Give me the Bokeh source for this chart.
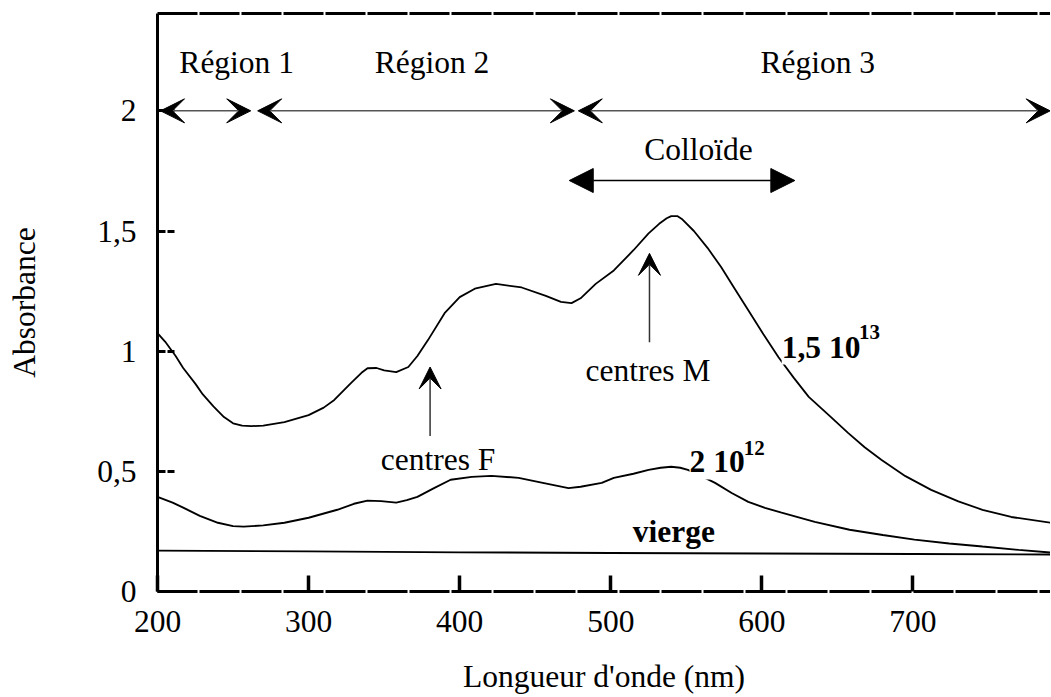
from bokeh.plotting import figure
from bokeh.models import (FixedTicker, LinearAxis, Range1d, Arrow, VeeHead,
                          NormalHead, Label)
from bokeh.embed import file_html
from bokeh.resources import INLINE

FONT = "Liberation Serif"
FS = "31.5px"

# ---- data ----
wl_high = [200, 205, 212, 217, 225, 230, 237, 244, 250, 256, 262, 270, 284, 300,
           310, 317, 328, 335, 339, 345, 350, 358, 366, 372, 379, 390, 400, 410,
           424, 441, 457, 467, 474, 480, 490, 502, 515, 525, 532, 537, 540, 544,
           547, 555, 564, 573, 582, 591, 601, 611, 621, 631, 645, 657, 668, 679,
           695, 712, 730, 746, 765, 791]
abs_high = [1.075, 1.04, 0.98, 0.93, 0.865, 0.82, 0.77, 0.726, 0.70, 0.69, 0.688,
            0.69, 0.705, 0.734, 0.765, 0.797, 0.867, 0.91, 0.929, 0.93, 0.92,
            0.913, 0.934, 0.98, 1.046, 1.158, 1.225, 1.26, 1.28, 1.265, 1.23,
            1.205, 1.20, 1.22, 1.28, 1.336, 1.42, 1.49, 1.53, 1.553, 1.562,
            1.562, 1.55, 1.50, 1.43, 1.35, 1.26, 1.17, 1.07, 0.975, 0.89, 0.81,
            0.73, 0.66, 0.60, 0.548, 0.48, 0.423, 0.375, 0.34, 0.31, 0.286]

wl_mid = [200, 210, 217, 228, 240, 250, 257, 270, 284, 300, 319, 330, 339, 348,
          358, 365, 372, 383, 394, 408, 421, 439, 455, 472, 480, 494, 502, 515,
          525, 533, 540, 546, 551, 560, 569, 580, 591, 602, 613, 635, 658, 680,
          701, 724, 746, 770, 791]
abs_mid = [0.394, 0.37, 0.349, 0.315, 0.286, 0.272, 0.27, 0.275, 0.286, 0.307,
           0.34, 0.365, 0.378, 0.376, 0.37, 0.38, 0.394, 0.43, 0.465, 0.477,
           0.481, 0.473, 0.452, 0.43, 0.436, 0.452, 0.473, 0.49, 0.506, 0.515,
           0.519, 0.515, 0.506, 0.48, 0.452, 0.41, 0.373, 0.348, 0.328, 0.29,
           0.257, 0.235, 0.216, 0.20, 0.187, 0.173, 0.162]

wl_virgin = [200, 300, 400, 500, 600, 700, 791]
abs_virgin = [0.170, 0.167, 0.163, 0.160, 0.158, 0.156, 0.154]

x_ticks = [200, 300, 400, 500, 600, 700]
y_ticks = [0, 0.5, 1, 1.5, 2]
y_tick_labels = ["0", "0,5", "1", "1,5", "2"]

# annotation arrows: (x_start, x_end, y)
region_arrows = [(202, 261.7, 2.0), (266.3, 475.9, 2.0), (478.5, 790.8, 2.0)]
colloid_arrow = (472.5, 621.8, 1.71)
# vertical arrows: (x, y_start, y_tip)
centre_arrows = [(380.4, 0.647, 0.934), (525.6, 1.037, 1.407)]

# texts: (text, x, y)
center_texts = [("Région 1", 252.4, 2.20), ("Région 2", 381.7, 2.20),
                ("Région 3", 637.0, 2.20), ("Colloïde", 558.0, 1.84),
                ("centres F", 385.7, 0.548), ("centres M", 524.6, 0.921)]

p = figure(width=1050, height=696, x_range=Range1d(200, 791),
           y_range=Range1d(0, 2.405), output_backend="svg",
           toolbar_location=None, min_border_left=157, min_border_right=0,
           min_border_top=13, min_border_bottom=104)
p.outline_line_color = None
p.grid.visible = False
p.background_fill_color = "white"

# curves
p.line(wl_virgin, abs_virgin, line_color="black", line_width=1.9)
p.line(wl_mid, abs_mid, line_color="black", line_width=1.9)
p.line(wl_high, abs_high, line_color="black", line_width=1.8)

# axes styling
xa = p.xaxis[0]
xa.ticker = FixedTicker(ticks=x_ticks)
xa.axis_label = "Longueur d'onde (nm)"
xa.axis_line_width = 3
xa.axis_line_dash = "40 2"
xa.major_tick_in = 16
xa.major_tick_out = 0
xa.major_tick_line_width = 3.5
xa.minor_tick_line_color = None
xa.major_label_standoff = 19
xa.axis_label_standoff = 24

ya = p.yaxis[0]
ya.ticker = FixedTicker(ticks=y_ticks)
ya.major_label_overrides = {t: s for t, s in zip(y_ticks, y_tick_labels)}
ya.axis_label = "Absorbance"
ya.axis_line_width = 3
ya.major_tick_in = 17
ya.major_tick_out = 0
ya.major_tick_line_width = 3
ya.major_tick_line_dash = "8 2"
ya.minor_tick_line_color = None
ya.major_label_standoff = 21
ya.axis_label_standoff = 52

for ax in (xa, ya):
    ax.major_label_text_font = FONT
    ax.major_label_text_font_size = FS
    ax.major_label_text_color = "black"
    ax.axis_label_text_font = FONT
    ax.axis_label_text_font_size = FS
    ax.axis_label_text_font_style = "normal"
    ax.axis_label_text_color = "black"
    ax.axis_line_color = "black"
    ax.major_tick_line_color = "black"

top = LinearAxis(ticker=FixedTicker(ticks=[]), axis_line_width=3,
                 axis_line_dash="40 2", axis_line_color="black",
                 major_tick_in=0, major_tick_out=0, minor_tick_in=0,
                 minor_tick_out=0, major_label_standoff=0,
                 major_label_text_font_size="0px")
p.add_layout(top, "above")

# region arrows
for xs, xe, yy in region_arrows:
    p.add_layout(Arrow(x_start=xs, y_start=yy, x_end=xe, y_end=yy,
                       line_color="#555555", line_width=1.5,
                       start=VeeHead(size=24, fill_color="black", line_color="black", line_width=1),
                       end=VeeHead(size=24, fill_color="black", line_color="black", line_width=1)))

xs, xe, yy = colloid_arrow
p.add_layout(Arrow(x_start=xs, y_start=yy, x_end=xe, y_end=yy,
                   line_color="black", line_width=1.5,
                   start=NormalHead(size=24, fill_color="black", line_color="black"),
                   end=NormalHead(size=24, fill_color="black", line_color="black")))

for xx, ys, ye in centre_arrows:
    p.add_layout(Arrow(x_start=xx, y_start=ys, x_end=xx, y_end=ye,
                       line_color="#333333", line_width=1.5,
                       end=VeeHead(size=22, fill_color="black", line_color="black", line_width=1)))

for txt, xx, yy in center_texts:
    p.add_layout(Label(x=xx, y=yy, text=txt, text_font=FONT, text_font_size=FS,
                       text_align="center", text_baseline="middle", text_color="black"))

p.add_layout(Label(x=541.8, y=0.249, text="vierge", text_font=FONT, text_font_size=FS,
                   text_font_style="bold", text_align="center", text_baseline="middle",
                   text_color="black"))

# dose labels with superscripts
p.add_layout(Label(x=613.1, y=1.017, text="1,5 10", text_font=FONT, text_font_size=FS,
                   text_font_style="bold", text_align="left", text_baseline="middle",
                   text_color="black", background_fill_color="white"))
p.add_layout(Label(x=664.2, y=1.079, text="13", text_font=FONT, text_font_size="21px",
                   text_font_style="bold", text_align="left", text_baseline="middle",
                   text_color="black"))
p.add_layout(Label(x=552.1, y=0.539, text="2 10", text_font=FONT, text_font_size=FS,
                   text_font_style="bold", text_align="left", text_baseline="middle",
                   text_color="black", background_fill_color="white"))
p.add_layout(Label(x=588.0, y=0.598, text="12", text_font=FONT, text_font_size="21px",
                   text_font_style="bold", text_align="left", text_baseline="middle",
                   text_color="black"))

open("out.html", "w").write(file_html(p, INLINE))
